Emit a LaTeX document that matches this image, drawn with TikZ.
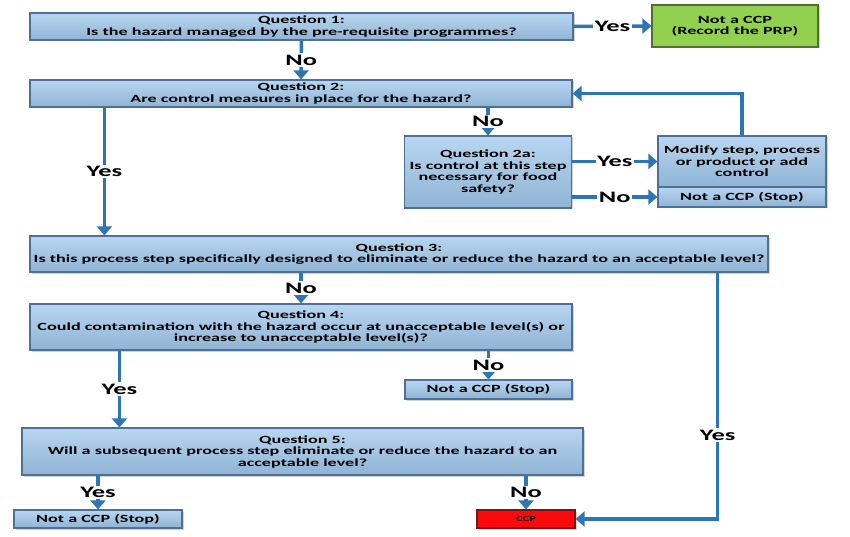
\documentclass[tikz,border=0pt]{standalone}
\usepackage{fontspec}
\setmainfont{Carlito}[FakeStretch = 1.65]
\usetikzlibrary{arrows.meta, shadows}
\definecolor{boxblue}{RGB}{160, 200, 236}
\definecolor{boxedge}{RGB}{78, 112, 150}
\definecolor{linkblue}{RGB}{46, 117, 182}
\definecolor{prpgreen}{RGB}{146, 208, 80}
\definecolor{prpedge}{RGB}{80, 110, 50}
\definecolor{ccpred}{RGB}{250, 10, 10}
\definecolor{ccpedge}{RGB}{120, 20, 20}
\begin{document}
\begin{tikzpicture}[x = 1pt, y = -1pt,
  qbox/.style = {draw = boxedge, line width = 1.2pt, top color = boxblue!75!white, bottom color = boxblue!90!black,
    drop shadow = {shadow xshift = 1.5pt, shadow yshift = -1.5pt, opacity = 0.35},
    inner sep = 0pt, align = center, font = \bfseries\fontsize{11}{11.5}\selectfont},
  link/.style = {draw = linkblue, line width = 3.5pt, -{Triangle[width = 15pt, length = 9pt]}},
  answer/.style = {fill = white, inner sep = 1.5pt, font = \bfseries\fontsize{16}{17}\selectfont}]
\useasboundingbox (0, 0) rectangle (850, 537);
%\draw [very thin, color = gray] (0, 0) grid [step = 50] (850, 537);
\node [qbox, minimum width = 543, minimum height = 27] (q1) at (301.5, 26.5) {Question 1:\\Is the hazard managed by the pre-requisite programmes?};
\node [qbox, top color = prpgreen, bottom color = prpgreen, draw = prpedge, minimum width = 166, minimum height = 42] (prp) at (735, 26) {Not a CCP\\(Record the PRP)};
\node [qbox, minimum width = 542, minimum height = 27] (q2) at (301, 93.5) {Question 2:\\Are control measures in place for the hazard?};
\node [qbox, minimum width = 167, minimum height = 72] (q2a) at (488, 172) {Question 2a:\\Is control at this step\\necessary for food\\safety?};
\node [qbox, minimum width = 168, minimum height = 51] (modify) at (742, 161.5) {Modify step, process\\or product or add\\control};
\node [qbox, minimum width = 168, minimum height = 20] (stop2) at (742, 197) {Not a CCP (Stop)};
\node [qbox, minimum width = 738, minimum height = 36] (q3) at (399, 254) {Question 3:\\Is this process step specifically designed to eliminate or reduce the hazard to an acceptable level?};
\node [qbox, minimum width = 542, minimum height = 46] (q4) at (301, 327) {Question 4:\\Could contamination with the hazard occur at unacceptable level(s) or\\increase to unacceptable level(s)?};
\node [qbox, minimum width = 167, minimum height = 19] (stop4) at (488.5, 389.5) {Not a CCP (Stop)};
\node [qbox, minimum width = 561, minimum height = 47] (q5) at (302.5, 451.5) {Question 5:\\Will a subsequent process step eliminate or reduce the hazard to an\\acceptable level?};
\node [qbox, minimum width = 168, minimum height = 18] (stop5) at (98, 519) {Not a CCP (Stop)};
\node [qbox, top color = ccpred, bottom color = ccpred, draw = ccpedge, minimum width = 98, minimum height = 18, font = \bfseries\fontsize{7.5}{8}\selectfont] (ccp) at (526, 519) {CCP};
% connectors
\draw [link] (q1.east) -- node [answer] {Yes} (prp.west);
\draw [link] (q1.south) -- node [answer] {No} (q2.north);
\draw [link] (q2a.north |- q2.south) -- node [answer] {No} (q2a.north);
\draw [link] (q2a.east |- modify.west) -- node [answer] {Yes} (modify.west);
\draw [link] (q2a.east |- stop2.west) -- node [answer] {No} (stop2.west);
\draw [link] (modify.north) |- (q2.east);
\draw [link] ([xshift = 75pt]q2.south west) coordinate (y2) -- node [answer] {Yes} (y2 |- q3.north);
\draw [link] (q4.north |- q3.south) -- node [answer] {No} (q4.north);
\draw [link] ([xshift = -51pt]q3.south east) coordinate (y3) -- node [answer, pos = 0.66] {Yes} (y3 |- ccp.east) -- (ccp.east);
\draw [link] ([xshift = 90pt]q4.south west) coordinate (y4) -- node [answer] {Yes} (y4 |- q5.north);
\draw [link] (stop4.north |- q4.south) -- node [answer] {No} (stop4.north);
\draw [link] (stop5.north |- q5.south) -- node [answer] {Yes} (stop5.north);
\draw [link] (ccp.north |- q5.south) -- node [answer] {No} (ccp.north);
\end{tikzpicture}
\end{document}
